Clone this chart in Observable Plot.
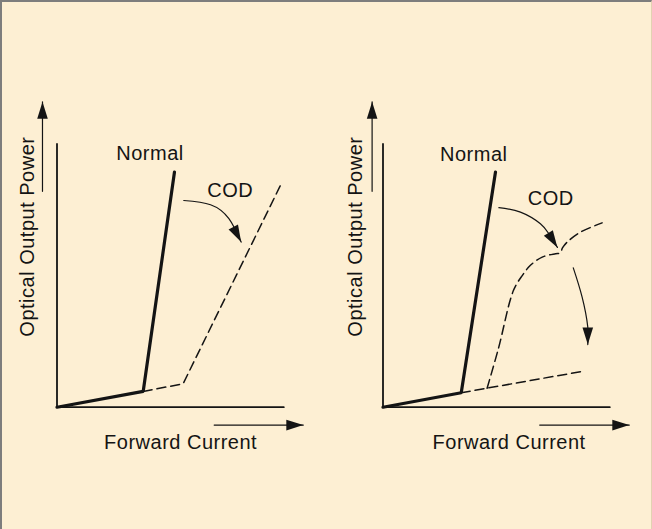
<!DOCTYPE html>
<html><head><meta charset="utf-8">
<script src="https://cdn.jsdelivr.net/npm/d3@7"></script>
<script src="https://cdn.jsdelivr.net/npm/@observablehq/plot@0.6"></script>
<style>
html,body{margin:0;padding:0;background:#fff;}
#frame{position:relative;width:652px;height:529px;background:#FDEFD3;overflow:hidden;}
#frame svg{position:absolute;top:0;}
#frame svg text{letter-spacing:0.5px;}
#edge{position:absolute;left:0;top:0;width:652px;height:529px;box-sizing:border-box;border-top:2px solid #7d7d7d;border-left:2px solid #7d7d7d;border-right:1px solid #e2d2b2;pointer-events:none;}
</style></head>
<body><div id="frame"><div id="edge"></div></div>
<script>
// Axes (data units: forward current i, optical output power p, each 0..100)
const axisShape = [{i:0,p:100},{i:0,p:0},{i:100,p:0}];

// Left panel
const normalL   = [{i:0,p:0},{i:38.0,p:6.0},{i:51.8,p:89.3}];
const codL      = [{i:38.0,p:6.0},{i:55.6,p:8.9},{i:98.5,p:84.2}];
const codArrowL = [{i:55.9,p:78.5},{i:67.7,p:76.9},{i:75.8,p:71.6},{i:81.2,p:62.7}];
const yArrowL   = [{i:-6.4,p:82},{i:-6.4,p:116}];
const xArrowL   = [{i:69.3,p:-6.8},{i:108.6,p:-6.8}];
const labelsL   = [{text:"Normal",i:41.0,p:94.0},{text:"COD",i:76.4,p:79.8},{text:"Forward Current",i:54.5,p:-15.8}];
const yTitleL   = [{text:"Optical Output Power",i:-10.1,p:64.8}];

// Right panel
const normalR    = [{i:0,p:0},{i:34.5,p:5.5},{i:49.6,p:89.3}];
const lowR       = [{i:34.5,p:5.5},{i:88.5,p:13.7}];
const codR       = [{i:45.9,p:7.2},{i:50.9,p:22.3},{i:57.5,p:44.3},{i:61.4,p:50.0},{i:65.0,p:53.9},{i:70.2,p:57.0},{i:76.1,p:58.3},{i:78.1,p:58.6},{i:79.2,p:60.6},{i:81.2,p:62.7},{i:87.1,p:66.5},{i:96.6,p:70.0}];
const codArrowR  = [{i:51.1,p:75.8},{i:60.6,p:74.1},{i:69.4,p:69.7},{i:73.1,p:65.9},{i:76.9,p:60.7}];
const dropArrowR = [{i:83.9,p:52.9},{i:87.8,p:41.8},{i:90.3,p:30.4},{i:90.3,p:23.8}];
const yArrowR    = [{i:-4.8,p:82},{i:-4.8,p:116}];
const xArrowR    = [{i:69.1,p:-6.8},{i:108.6,p:-6.8}];
const labelsR    = [{text:"Normal",i:40.0,p:93.4},{text:"COD",i:74.0,p:76.8},{text:"Forward Current",i:55.6,p:-15.9}];
const yTitleR    = [{text:"Optical Output Power",i:-9.3,p:64.8}];

const ink = "#141414";
const font = "Liberation Sans, Arial, Helvetica, sans-serif";
const xOpt = {domain:[0,100], range:[56.5,283.3]};
const yOpt = {domain:[0,100], range:[406.7,143.4]};
const sx = Plot.scale({x: xOpt});
const sy = Plot.scale({y: yOpt});

function head(pts) {
  const a = pts[pts.length-2], b = pts[pts.length-1];
  const dx = sx.apply(b.i) - sx.apply(a.i), dy = sy.apply(b.p) - sy.apply(a.p);
  return {i:b.i, p:b.p, angle: Math.atan2(dx, -dy) * 180 / Math.PI};
}

function panel(normal, dashedSets, arrows, labels, yTitle) {
  const marks = [
    Plot.line(axisShape, {x:"i", y:"p", stroke:ink, strokeWidth:1.8, strokeLinejoin:"miter"})
  ];
  for (const d of dashedSets) {
    marks.push(Plot.line(d, {x:"i", y:"p", stroke:ink, strokeWidth:1.5, strokeDasharray:"9,5", curve: d.length > 3 ? "catmull-rom" : "linear"}));
  }
  marks.push(Plot.line(normal, {x:"i", y:"p", stroke:ink, strokeWidth:3.2, strokeLinejoin:"miter"}));
  for (const a of arrows) {
    marks.push(Plot.line(a, {x:"i", y:"p", stroke:ink, strokeWidth:1.2, curve: a.length > 2 ? "natural" : "linear"}));
  }
  marks.push(Plot.vector(arrows.map(head), {x:"i", y:"p", rotate:"angle", length:17, r:5.3, shape:"spike", anchor:"end", fill:ink, stroke:"none"}));
  marks.push(Plot.text(labels, {x:"i", y:"p", text:"text", fill:ink, fontSize:20, fontFamily:font, lineAnchor:"bottom", textAnchor:"middle"}));
  marks.push(Plot.text(yTitle, {x:"i", y:"p", text:"text", fill:ink, fontSize:20, fontFamily:font, lineAnchor:"bottom", textAnchor:"middle", rotate:-90}));
  return Plot.plot({
    width:326, height:529, margin:0,
    x:{...xOpt, axis:null}, y:{...yOpt, axis:null},
    style:{background:"transparent", overflow:"visible"},
    marks
  });
}

const frame = document.getElementById("frame");
const left = panel(normalL, [codL], [codArrowL, yArrowL, xArrowL], labelsL, yTitleL);
left.style.left = "0px";
const right = panel(normalR, [lowR, codR], [codArrowR, dropArrowR, yArrowR, xArrowR], labelsR, yTitleR);
right.style.left = "326px";
frame.insertBefore(left, frame.firstChild);
frame.insertBefore(right, frame.firstChild);
</script>
</body></html>
